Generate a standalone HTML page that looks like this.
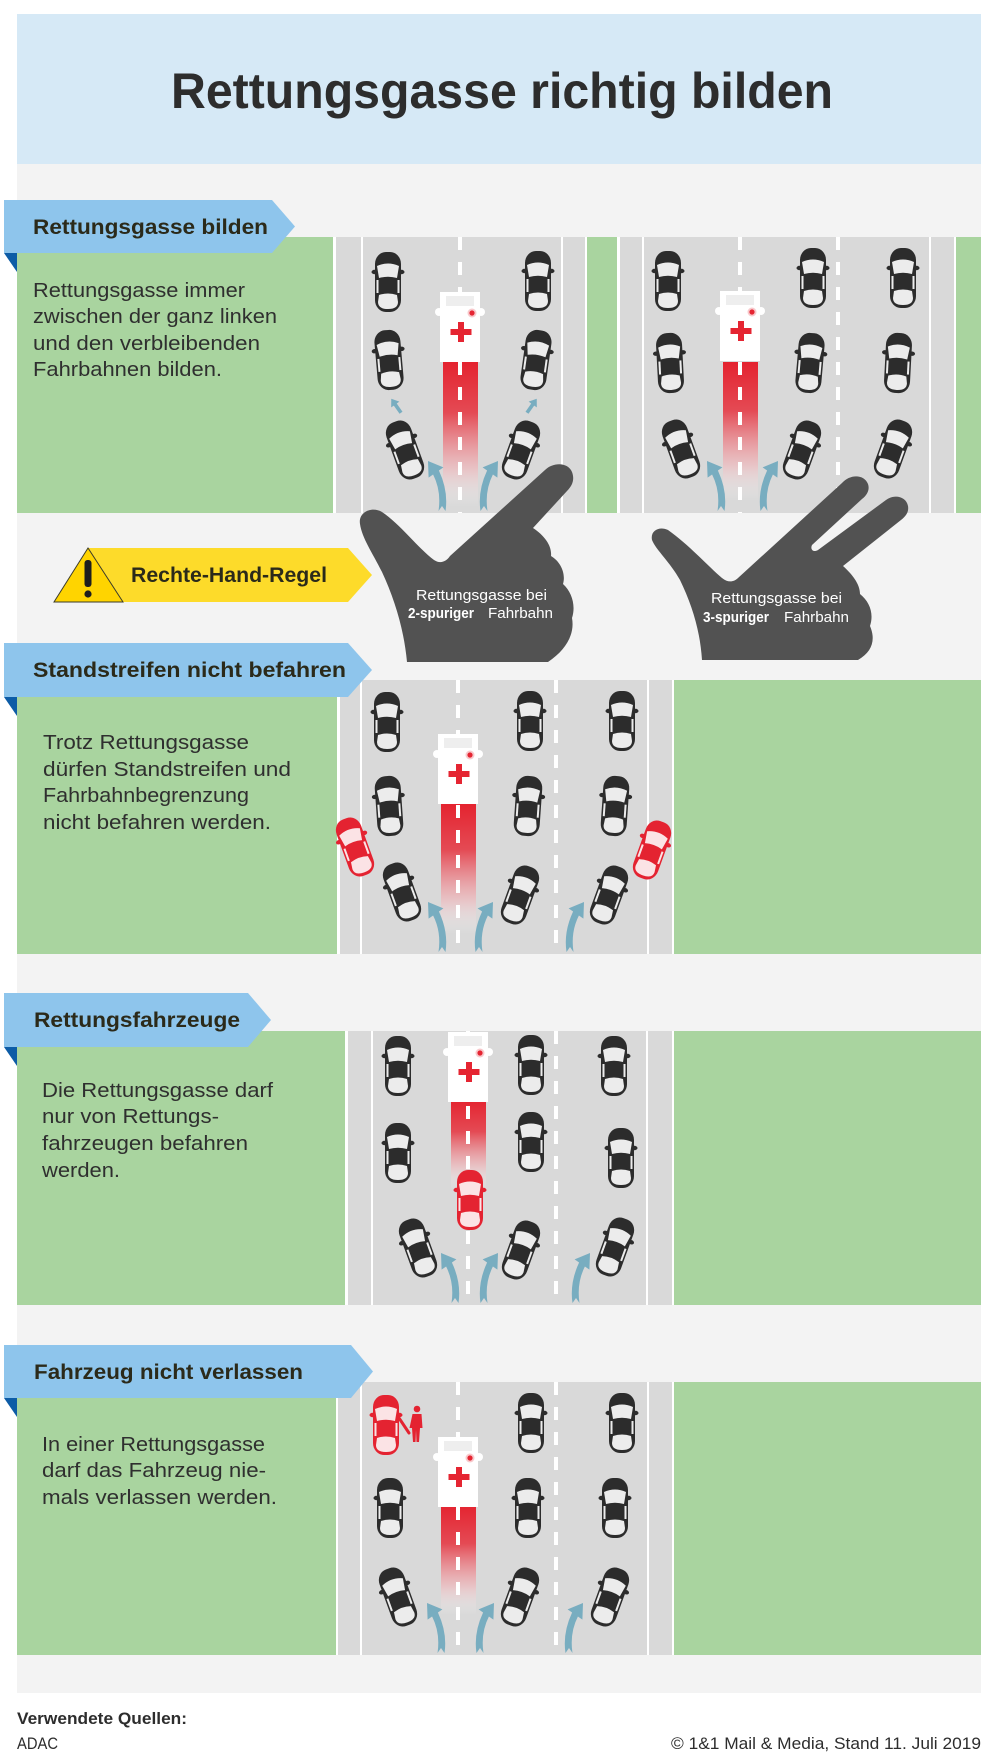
<!DOCTYPE html>
<html><head><meta charset="utf-8"><style>
html,body{margin:0;padding:0;background:#fff;}
svg{display:block;}
</style></head><body>
<svg width="1000" height="1763" viewBox="0 0 1000 1763" xmlns="http://www.w3.org/2000/svg" font-family="'Liberation Sans', sans-serif">
<defs>
  <g id="car">
    <ellipse cx="-13.5" cy="-10" rx="3" ry="2.2" fill="#2c2c2c"/>
    <ellipse cx="13.5" cy="-10" rx="3" ry="2.2" fill="#2c2c2c"/>
    <rect x="-13" y="-30" width="26" height="60" rx="11" ry="12" fill="#2c2c2c"/>
    <path d="M-11,-16 Q0,-21 11,-16 L9,-4 Q0,-6.5 -9,-4 Z" fill="#ececec"/>
    <rect x="-11.5" y="-2" width="2" height="13" fill="#ececec"/>
    <rect x="9.5" y="-2" width="2" height="13" fill="#ececec"/>
    <path d="M-9,13 Q0,10 9,13 L10,20 Q10,27 0,27 Q-10,27 -10,20 Z" fill="#ececec"/>
  </g>
  <g id="rcar">
    <ellipse cx="-13.5" cy="-10" rx="3" ry="2.2" fill="#e42331"/>
    <ellipse cx="13.5" cy="-10" rx="3" ry="2.2" fill="#e42331"/>
    <rect x="-13" y="-30" width="26" height="60" rx="11" ry="12" fill="#e42331"/>
    <path d="M-11,-16 Q0,-21 11,-16 L9,-4 Q0,-6.5 -9,-4 Z" fill="#fbe3e5"/>
    <rect x="-11.5" y="-2" width="2" height="13" fill="#fbe3e5"/>
    <rect x="9.5" y="-2" width="2" height="13" fill="#fbe3e5"/>
    <path d="M-9,13 Q0,10 9,13 L10,20 Q10,27 0,27 Q-10,27 -10,20 Z" fill="#fbe3e5"/>
  </g>
  <g id="amb">
    <circle cx="-1" cy="20" r="4" fill="#fff"/>
    <circle cx="41" cy="20" r="4" fill="#fff"/>
    <rect x="0" y="0" width="40" height="70" fill="#fff"/>
    <rect x="6" y="4" width="28" height="10" fill="#eeeeee"/>
    <circle cx="32" cy="21" r="4.5" fill="#f8c9cc"/>
    <circle cx="32" cy="21" r="2.6" fill="#e52532"/>
    <rect x="10.5" y="37" width="21" height="6" fill="#e52532"/>
    <rect x="18" y="30" width="6" height="20" fill="#e52532"/>
  </g>
  <linearGradient id="tr" x1="0" y1="0" x2="0" y2="1">
    <stop offset="0" stop-color="#e4232f" stop-opacity="1"/>
    <stop offset="0.35" stop-color="#e53a45" stop-opacity="0.9"/>
    <stop offset="0.75" stop-color="#f2b8bc" stop-opacity="0.6"/>
    <stop offset="1" stop-color="#ffffff" stop-opacity="0"/>
  </linearGradient>
  <path id="arrR" d="M-4.4,-43.6 L11,-50 L10.4,-33.4 L5.9,-36.5 Q-2.5,-20 0.5,0 L-3,-5 L-6.5,0 Q-9.5,-20 0.1,-40.5 Z" fill="#78adc0"/>
  <path id="sarr" d="M-1.8,7 L1.8,7 L1.8,-3 L5,-3 L0,-10 L-5,-3 L-1.8,-3 Z" fill="#78adc0"/>
</defs>

<!-- backgrounds -->
<rect x="17" y="14" width="964" height="150" fill="#d6e9f6"/>
<rect x="17" y="164" width="964" height="1529" fill="#f3f3f3"/>
<text x="171" y="108" font-size="50" font-weight="bold" fill="#2d2d2d" textLength="662" lengthAdjust="spacingAndGlyphs">Rettungsgasse richtig bilden</text>

<!-- ============ SECTION 1 ============ -->
<rect x="17" y="237" width="964" height="276" fill="#a9d49f"/>
<rect x="333" y="237" width="254" height="276" fill="#fff"/>
<rect x="336" y="237" width="249" height="276" fill="#d9d9d9"/>
<rect x="361" y="237" width="2" height="276" fill="#fff"/>
<rect x="561" y="237" width="2" height="276" fill="#fff"/>
<rect x="617" y="237" width="339" height="276" fill="#fff"/>
<rect x="620" y="237" width="334" height="276" fill="#d9d9d9"/>
<rect x="642" y="237" width="2" height="276" fill="#fff"/>
<rect x="929" y="237" width="2" height="276" fill="#fff"/>
<!-- road 1 -->
<rect x="443" y="362" width="35" height="145" fill="url(#tr)"/>
<line x1="460" y1="237" x2="460" y2="513" stroke="#fff" stroke-width="4" stroke-dasharray="13 12"/>
<use href="#amb" x="440" y="292"/>
<use href="#car" transform="translate(388,282)"/>
<use href="#car" transform="translate(389,360) rotate(-5)"/>
<use href="#car" transform="translate(405,450) rotate(-20)"/>
<use href="#car" transform="translate(538,281)"/>
<use href="#car" transform="translate(536,360) rotate(8)"/>
<use href="#car" transform="translate(521,450) rotate(20)"/>
<use href="#sarr" transform="translate(397,407) rotate(-35)"/>
<use href="#sarr" transform="translate(531,407) rotate(35)"/>
<use href="#arrR" transform="translate(439,511) scale(-1,1)"/>
<use href="#arrR" transform="translate(487,511)"/>
<!-- road 2 -->
<rect x="723" y="362" width="35" height="139" fill="url(#tr)"/>
<line x1="740" y1="237" x2="740" y2="513" stroke="#fff" stroke-width="4" stroke-dasharray="13 12"/>
<line x1="838" y1="237" x2="838" y2="513" stroke="#fff" stroke-width="4" stroke-dasharray="13 12"/>
<use href="#amb" x="720" y="291"/>
<use href="#car" transform="translate(668,281)"/>
<use href="#car" transform="translate(670,363) rotate(-3)"/>
<use href="#car" transform="translate(681,449) rotate(-20)"/>
<use href="#car" transform="translate(813,278)"/>
<use href="#car" transform="translate(810,363) rotate(5)"/>
<use href="#car" transform="translate(802,450) rotate(20)"/>
<use href="#car" transform="translate(903,278)"/>
<use href="#car" transform="translate(898,363) rotate(3)"/>
<use href="#car" transform="translate(893,449) rotate(20)"/>
<use href="#arrR" transform="translate(718,511) scale(-1,1)"/>
<use href="#arrR" transform="translate(767,511)"/>

<text x="33" y="297" font-size="20" fill="#2f2f2f" textLength="212" lengthAdjust="spacingAndGlyphs">Rettungsgasse immer</text>
<text x="33" y="323" font-size="20" fill="#2f2f2f" textLength="244" lengthAdjust="spacingAndGlyphs">zwischen der ganz linken</text>
<text x="33" y="350" font-size="20" fill="#2f2f2f" textLength="227" lengthAdjust="spacingAndGlyphs">und den verbleibenden</text>
<text x="33" y="376" font-size="20" fill="#2f2f2f" textLength="189" lengthAdjust="spacingAndGlyphs">Fahrbahnen bilden.</text>

<!-- ============ SECTION 2 ============ -->
<rect x="17" y="680" width="964" height="274" fill="#a9d49f"/>
<rect x="337" y="680" width="337" height="274" fill="#fff"/>
<rect x="340" y="680" width="332" height="274" fill="#d9d9d9"/>
<rect x="360" y="680" width="2" height="274" fill="#fff"/>
<rect x="647" y="680" width="2" height="274" fill="#fff"/>
<rect x="441" y="804" width="35" height="130" fill="url(#tr)"/>
<line x1="458" y1="680" x2="458" y2="954" stroke="#fff" stroke-width="4" stroke-dasharray="13 12"/>
<line x1="556" y1="680" x2="556" y2="954" stroke="#fff" stroke-width="4" stroke-dasharray="13 12"/>
<use href="#amb" x="438" y="734"/>
<use href="#car" transform="translate(387,722)"/>
<use href="#car" transform="translate(389,806) rotate(-4)"/>
<use href="#car" transform="translate(402,892) rotate(-20)"/>
<use href="#rcar" transform="translate(355,847) rotate(-20)"/>
<use href="#car" transform="translate(530,721)"/>
<use href="#car" transform="translate(528,806) rotate(4)"/>
<use href="#car" transform="translate(520,895) rotate(20)"/>
<use href="#car" transform="translate(622,721)"/>
<use href="#car" transform="translate(615,806) rotate(4)"/>
<use href="#car" transform="translate(609,895) rotate(20)"/>
<use href="#rcar" transform="translate(652,850) rotate(20)"/>
<use href="#arrR" transform="translate(439,952) scale(-1,1)"/>
<use href="#arrR" transform="translate(482,952)"/>
<use href="#arrR" transform="translate(573,952)"/>

<text x="43" y="749" font-size="20" fill="#2f2f2f" textLength="206" lengthAdjust="spacingAndGlyphs">Trotz Rettungsgasse</text>
<text x="43" y="776" font-size="20" fill="#2f2f2f" textLength="248" lengthAdjust="spacingAndGlyphs">dürfen Standstreifen und</text>
<text x="43" y="802" font-size="20" fill="#2f2f2f" textLength="206" lengthAdjust="spacingAndGlyphs">Fahrbahnbegrenzung</text>
<text x="43" y="829" font-size="20" fill="#2f2f2f" textLength="228" lengthAdjust="spacingAndGlyphs">nicht befahren werden.</text>

<!-- ============ SECTION 3 ============ -->
<rect x="17" y="1031" width="964" height="274" fill="#a9d49f"/>
<rect x="345" y="1031" width="329" height="274" fill="#fff"/>
<rect x="348" y="1031" width="324" height="274" fill="#d9d9d9"/>
<rect x="371" y="1031" width="2" height="274" fill="#fff"/>
<rect x="646" y="1031" width="2" height="274" fill="#fff"/>
<rect x="451" y="1100" width="35" height="90" fill="url(#tr)"/>
<line x1="468" y1="1031" x2="468" y2="1305" stroke="#fff" stroke-width="4" stroke-dasharray="13 12"/>
<line x1="556" y1="1031" x2="556" y2="1305" stroke="#fff" stroke-width="4" stroke-dasharray="13 12"/>
<use href="#amb" x="448" y="1032"/>
<use href="#rcar" transform="translate(470,1200)"/>
<use href="#car" transform="translate(398,1066)"/>
<use href="#car" transform="translate(398,1153)"/>
<use href="#car" transform="translate(418,1248) rotate(-20)"/>
<use href="#car" transform="translate(531,1065)"/>
<use href="#car" transform="translate(531,1142)"/>
<use href="#car" transform="translate(521,1250) rotate(20)"/>
<use href="#car" transform="translate(614,1066)"/>
<use href="#car" transform="translate(621,1158)"/>
<use href="#car" transform="translate(615,1247) rotate(20)"/>
<use href="#arrR" transform="translate(452,1303) scale(-1,1)"/>
<use href="#arrR" transform="translate(487,1303)"/>
<use href="#arrR" transform="translate(579,1303)"/>

<text x="42" y="1097" font-size="20" fill="#2f2f2f" textLength="231" lengthAdjust="spacingAndGlyphs">Die Rettungsgasse darf</text>
<text x="42" y="1123" font-size="20" fill="#2f2f2f" textLength="177" lengthAdjust="spacingAndGlyphs">nur von Rettungs-</text>
<text x="42" y="1150" font-size="20" fill="#2f2f2f" textLength="206" lengthAdjust="spacingAndGlyphs">fahrzeugen befahren</text>
<text x="42" y="1177" font-size="20" fill="#2f2f2f" textLength="78" lengthAdjust="spacingAndGlyphs">werden.</text>

<!-- ============ SECTION 4 ============ -->
<rect x="17" y="1382" width="964" height="273" fill="#a9d49f"/>
<rect x="336" y="1382" width="338" height="273" fill="#fff"/>
<rect x="338" y="1382" width="334" height="273" fill="#d9d9d9"/>
<rect x="360" y="1382" width="2" height="273" fill="#fff"/>
<rect x="647" y="1382" width="2" height="273" fill="#fff"/>
<rect x="441" y="1505" width="35" height="110" fill="url(#tr)"/>
<line x1="458" y1="1382" x2="458" y2="1655" stroke="#fff" stroke-width="4" stroke-dasharray="13 12"/>
<line x1="556" y1="1382" x2="556" y2="1655" stroke="#fff" stroke-width="4" stroke-dasharray="13 12"/>
<use href="#amb" x="438" y="1437"/>
<line x1="399" y1="1418" x2="409" y2="1433" stroke="#e42331" stroke-width="3" stroke-linecap="round"/>
<use href="#rcar" transform="translate(386,1425)"/>
<circle cx="417" cy="1409" r="3.3" fill="#e42331"/>
<path d="M412.5,1414 h9 l1,14 h-2.5 l-1,14 h-2.5 l-0.5,-12 l-0.5,12 h-2.5 l-1,-14 h-2.5 z" fill="#e42331"/>
<use href="#car" transform="translate(390,1508)"/>
<use href="#car" transform="translate(398,1597) rotate(-20)"/>
<use href="#car" transform="translate(531,1423)"/>
<use href="#car" transform="translate(528,1508)"/>
<use href="#car" transform="translate(520,1597) rotate(20)"/>
<use href="#car" transform="translate(622,1423)"/>
<use href="#car" transform="translate(615,1508)"/>
<use href="#car" transform="translate(610,1597) rotate(20)"/>
<use href="#arrR" transform="translate(438,1653) scale(-1,1)"/>
<use href="#arrR" transform="translate(483,1653)"/>
<use href="#arrR" transform="translate(572,1653)"/>

<text x="42" y="1451" font-size="20" fill="#2f2f2f" textLength="223" lengthAdjust="spacingAndGlyphs">In einer Rettungsgasse</text>
<text x="42" y="1477" font-size="20" fill="#2f2f2f" textLength="224" lengthAdjust="spacingAndGlyphs">darf das Fahrzeug nie-</text>
<text x="42" y="1504" font-size="20" fill="#2f2f2f" textLength="235" lengthAdjust="spacingAndGlyphs">mals verlassen werden.</text>

<!-- ============ LABELS ============ -->
<polygon points="4,200 272,200 295,226.5 272,253 4,253" fill="#8ec5ec"/>
<polygon points="4,253 17,253 17,272" fill="#0d5ca6"/>
<text x="33" y="234" font-size="21" font-weight="bold" fill="#2b2a1a" textLength="235" lengthAdjust="spacingAndGlyphs">Rettungsgasse bilden</text>

<polygon points="4,643 348,643 372,670 348,697 4,697" fill="#8ec5ec"/>
<polygon points="4,697 17,697 17,716" fill="#0d5ca6"/>
<text x="33" y="677" font-size="21" font-weight="bold" fill="#2b2a1a" textLength="313" lengthAdjust="spacingAndGlyphs">Standstreifen nicht befahren</text>

<polygon points="4,993 248,993 271,1020 248,1047 4,1047" fill="#8ec5ec"/>
<polygon points="4,1047 17,1047 17,1066" fill="#0d5ca6"/>
<text x="34" y="1027" font-size="21" font-weight="bold" fill="#2b2a1a" textLength="206" lengthAdjust="spacingAndGlyphs">Rettungsfahrzeuge</text>

<polygon points="4,1345 351,1345 373,1371.5 351,1398 4,1398" fill="#8ec5ec"/>
<polygon points="4,1398 17,1398 17,1417" fill="#0d5ca6"/>
<text x="34" y="1379" font-size="21" font-weight="bold" fill="#2b2a1a" textLength="269" lengthAdjust="spacingAndGlyphs">Fahrzeug nicht verlassen</text>

<!-- Rechte-Hand-Regel -->
<polygon points="88,548 348,548 372,575 348,602 88,602" fill="#fddb2a"/>
<polygon points="88,548 123,602 54,602" fill="#ffd400" stroke="#3a3a2a" stroke-width="1"/>
<rect x="84.5" y="560" width="7" height="27" rx="3" fill="#1e1e1e"/>
<circle cx="88" cy="594" r="3.6" fill="#1e1e1e"/>
<text x="131" y="582" font-size="21" font-weight="bold" fill="#2b2a1a" textLength="196" lengthAdjust="spacingAndGlyphs">Rechte-Hand-Regel</text>

<!-- ============ HANDS ============ -->
<path d="M407,662 C404,630 395,600 382,572 C372,552 362,538 360,524 C358,512 372,506 382,512 C400,524 418,548 434,560 C440,564 446,562 450,556 L545,470 C553,462 568,462 572,472 C575,480 572,486 567,491 L533,528 C545,536 552,546 551,556 C561,562 566,574 563,584 C572,592 576,606 572,618 C575,634 566,650 548,662 Z" fill="#525252"/>
<text x="416" y="600" font-size="14.5" fill="#fff" textLength="131" lengthAdjust="spacingAndGlyphs">Rettungsgasse bei</text>
<text x="408" y="618" font-size="14.5" font-weight="bold" fill="#fff" textLength="66" lengthAdjust="spacingAndGlyphs">2-spuriger</text>
<text x="488" y="618" font-size="14.5" fill="#fff" textLength="65" lengthAdjust="spacingAndGlyphs">Fahrbahn</text>

<path d="M702,660 C700,630 692,605 680,580 C670,562 656,550 652,540 C650,530 660,526 668,530 C688,544 708,566 722,578 C728,583 734,582 738,578 L842,483 C850,474 864,474 868,484 C870,490 867,495 862,499 L812,545 C810,549 813,553 818,550 L886,500 C894,494 906,496 908,506 C909,512 906,516 901,520 L843,566 C852,574 860,584 860,594 C870,602 874,614 870,626 C876,640 872,652 858,660 Z" fill="#525252"/>
<text x="711" y="603" font-size="14.5" fill="#fff" textLength="131" lengthAdjust="spacingAndGlyphs">Rettungsgasse bei</text>
<text x="703" y="622" font-size="14.5" font-weight="bold" fill="#fff" textLength="66" lengthAdjust="spacingAndGlyphs">3-spuriger</text>
<text x="784" y="622" font-size="14.5" fill="#fff" textLength="65" lengthAdjust="spacingAndGlyphs">Fahrbahn</text>

<!-- ============ FOOTER ============ -->
<text x="17" y="1724" font-size="17" font-weight="bold" fill="#2d2d2d" textLength="170" lengthAdjust="spacingAndGlyphs">Verwendete Quellen:</text>
<text x="17" y="1749" font-size="17" fill="#2d2d2d" textLength="41" lengthAdjust="spacingAndGlyphs">ADAC</text>
<text x="671" y="1749" font-size="17" fill="#2d2d2d" textLength="310" lengthAdjust="spacingAndGlyphs">© 1&amp;1 Mail &amp; Media, Stand 11. Juli 2019</text>
</svg>
</body></html>
